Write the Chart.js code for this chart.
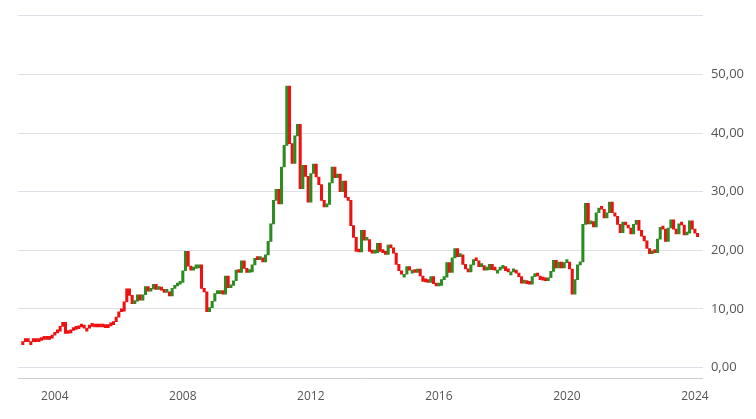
<!DOCTYPE html>
<html>
<head>
<meta charset="utf-8">
<script src="https://cdn.jsdelivr.net/npm/chart.js@4"></script>
<style>
  body { margin: 0; background: #fff; }
  #wrap { width: 756px; height: 419px; }
</style>
</head>
<body>
<div id="wrap"><canvas id="silverChart"></canvas></div>
<script>
// monthly closes, Jan 2003 .. Feb 2024
var START_YEAR = 2003;
var closes = [
  4.4, 4.5, 4.4, 4.4, 4.5, 4.4, 4.6, 4.8, 4.9, 4.8, 5.0, 5.5,
  5.9, 6.2, 7.0, 7.7, 5.8, 5.9, 6.3, 6.5, 6.6, 6.9, 7.2, 6.7,
  6.7, 7.1, 7.0, 6.9, 7.1, 6.9, 7.0, 6.8, 7.1, 7.3, 7.8, 8.6,
  9.5, 9.6, 11.2, 13.4, 12.3, 10.9, 11.3, 12.4, 11.5, 12.4, 13.8, 13.0,
  13.4, 14.2, 13.3, 13.5, 13.2, 12.8, 12.9, 12.2, 13.5, 13.9, 14.2, 14.5,
  16.5, 19.8, 17.3, 16.6, 16.9, 17.5, 17.5, 13.5, 12.9, 9.5, 10.2, 11.3,
  12.6, 13.1, 13.1, 12.5, 15.6, 13.6, 14.0, 14.8, 16.6, 16.2, 18.2, 16.9,
  16.2, 16.3, 17.5, 18.6, 18.4, 18.7, 18.0, 19.2, 21.5, 24.5, 28.5, 30.4,
  27.9, 34.2, 37.9, 48.0, 38.2, 34.8, 39.5, 41.5, 30.5, 34.5, 32.6, 28.2,
  33.1, 34.7, 32.5, 31.2, 28.5, 27.4, 27.8, 31.5, 34.2, 32.4, 33.0, 30.0,
  31.8, 29.0, 28.5, 24.2, 22.2, 19.8, 19.7, 23.4, 21.7, 21.8, 19.8, 19.5,
  19.6, 21.2, 19.8, 19.6, 19.3, 20.9, 20.4, 19.5, 17.6, 16.5, 15.9, 15.9,
  17.2, 16.6, 16.6, 16.2, 16.8, 15.6, 14.7, 14.6, 14.5, 15.5, 14.3, 13.9,
  14.0, 15.0, 15.4, 17.9, 16.2, 18.7, 20.3, 18.9, 19.2, 17.6, 16.8, 16.3,
  17.5, 18.4, 18.2, 17.2, 17.4, 16.6, 16.7, 17.6, 16.7, 16.6, 16.6, 16.9,
  17.2, 16.5, 16.3, 16.3, 16.4, 16.1, 15.5, 14.4, 14.6, 14.3, 14.2, 15.5,
  16.0, 15.6, 15.0, 14.9, 14.8, 15.3, 16.4, 18.3, 17.0, 18.0, 17.0, 17.9,
  18.0, 16.8, 12.5, 15.0, 17.5, 18.0, 24.4, 28.0, 24.5, 24.9, 24.0, 26.4,
  27.2, 27.0, 25.5, 26.4, 28.2, 26.4, 25.8, 24.4, 23.0, 24.8, 24.3, 23.8,
  22.8, 24.4, 25.1, 23.4, 22.4, 21.6, 20.3, 19.4, 19.8, 19.6, 21.9, 23.9,
  23.6, 21.5, 23.8, 25.2, 23.6, 22.8, 24.5, 24.3, 22.6, 22.9, 25.0, 23.6,
  22.9, 22.3
];
var tickYears = [2004, 2008, 2012, 2016, 2020, 2024];
// before this date the source only shows red price dots
var LINE_ONLY_UNTIL = 2006.5;

var UP = '#2e8b22';
var DOWN = '#ee1111';

var bars = [];
var colors = [];
for (var i = 0; i < closes.length; i++) {
  var prev = i > 0 ? closes[i - 1] : closes[0];
  var x = START_YEAR + i / 12;
  bars.push({ x: x, y: [prev, closes[i]] });
  colors.push(x < LINE_ONLY_UNTIL || closes[i] < prev ? DOWN : UP);
}

new Chart(document.getElementById('silverChart'), {
  type: 'bar',
  data: {
    datasets: [{
      data: bars,
      backgroundColor: colors,
      borderColor: colors,
      borderWidth: 0,
      barThickness: 2.4,
      minBarLength: 3
    }]
  },
  options: {
    responsive: true,
    maintainAspectRatio: false,
    animation: false,
    layout: { padding: { left: 18, top: 2, right: 4, bottom: 12 } },
    plugins: { legend: { display: false }, tooltip: { enabled: false } },
    scales: {
      x: {
        type: 'linear',
        min: 2002.85,
        max: 2024.25,
        offset: false,
        afterBuildTicks: function (axis) {
          axis.ticks = tickYears.map(function (v) { return { value: v }; });
        },
        ticks: {
          color: '#555',
          font: { family: 'Open Sans', size: 12 },
          callback: function (v) { return String(v); },
          maxRotation: 0
        },
        grid: { display: false, drawTicks: true },
        border: { color: '#ccd' }
      },
      y: {
        position: 'right',
        min: -1.9,
        max: 60,
        afterBuildTicks: function (axis) {
          axis.ticks = [0, 10, 20, 30, 40, 50, 60].map(function (v) { return { value: v }; });
        },
        ticks: {
          color: '#555',
          font: { family: 'Open Sans', size: 13 },
          padding: 8,
          callback: function (v) { return v === 60 ? '' : v.toFixed(2).replace('.', ','); }
        },
        grid: { color: '#dde0e6', drawTicks: false },
        border: { display: false }
      }
    }
  }
});
</script>
</body>
</html>
